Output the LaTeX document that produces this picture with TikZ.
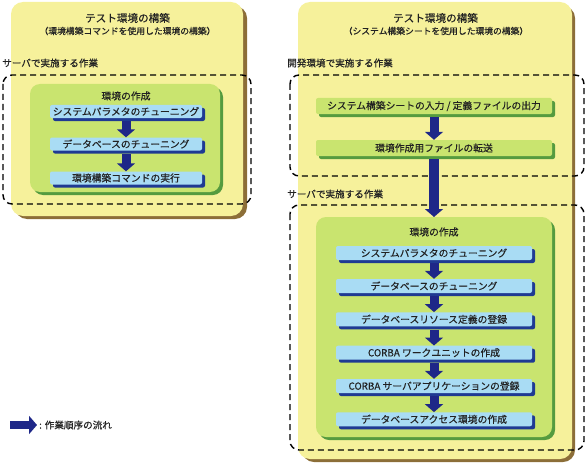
\documentclass[tikz,border=0pt]{standalone}
\usepackage{fontspec}
\setmainfont{Noto Sans CJK JP}[FakeBold=0.35]
\usetikzlibrary{arrows.meta,shadows}
\definecolor{panelY}{HTML}{F6F19B}
\definecolor{panelS}{HTML}{8C6E38}
\definecolor{greenF}{HTML}{C9E46F}
\definecolor{greenS}{HTML}{559B3F}
\definecolor{blueF}{HTML}{A9DCF4}
\definecolor{navyS}{HTML}{1F3A93}
\definecolor{flowC}{HTML}{1E2788}
\definecolor{txt}{HTML}{222222}
\begin{document}
\begin{tikzpicture}[x=1pt,y=-1pt,
  panel/.style={fill=panelY, rounded corners=12pt},
  panelshadow/.style={fill=panelS, rounded corners=12pt},
  dashbox/.style={draw=black, line width=1.4pt, dash pattern=on 6pt off 4pt, rounded corners=9pt},
  greenbox/.style={fill=greenF, rounded corners=10pt},
  greenshadow/.style={fill=greenS, rounded corners=10pt},
  titletext/.style={text=txt, inner sep=0pt, font=\fontsize{10.6}{11}\selectfont},
  subtext/.style={text=txt, inner sep=0pt, font=\fontsize{8.8}{9}\selectfont},
  labeltext/.style={text=txt, inner sep=0pt, anchor=west, font=\fontsize{9.6}{10}\selectfont},
  bluebox/.style={fill=blueF, rounded corners=2pt, inner sep=0pt, text=txt,
    font=\fontsize{9.8}{10}\selectfont,
    drop shadow={shadow xshift=3pt, shadow yshift=-3pt, fill=navyS, opacity=1}},
  greenbar/.style={fill=greenF, rounded corners=2pt, inner sep=0pt, text=txt,
    minimum width=236pt, minimum height=16pt, font=\fontsize{9.8}{10}\selectfont,
    drop shadow={shadow xshift=3pt, shadow yshift=-3pt, fill=greenS, opacity=1}},
  flow/.style={draw=flowC, line width=9pt, -{Triangle[width=18pt,length=8pt]}},
  bigflow/.style={draw=flowC, line width=10pt, -{Triangle[width=18pt,length=8pt]}}
]
\useasboundingbox (0,0) rectangle (588,468);

% ---------- left panel ----------
\fill[panelshadow] (15,6) rectangle (247,219);
\fill[panel] (11,2) rectangle (243,216);
\node[titletext] (lt) at (127.5,18) {テスト環境の構築};
\node[subtext] (ls) at (127.5,31) {（環境構築コマンドを使用した環境の構築）};
\node[labeltext] (lsv) at (2,63) {サーバで実施する作業};
\draw[dashbox] (3,75) rectangle (251,204);
\fill[greenshadow] (33,87) rectangle (223,195);
\fill[greenbox] (30,84) rectangle (220,192);
\node[titletext, font=\fontsize{9.8}{10}\selectfont] (lenv) at (126,96) {環境の作成};
\node[bluebox, minimum width=152pt, minimum height=13pt] (l1) at (126,111.5) {システムパラメタのチューニング};
\node[bluebox, minimum width=152pt, minimum height=13pt] (l2) at (126,144) {データベースのチューニング};
\node[bluebox, minimum width=152pt, minimum height=13pt] (l3) at (126,178) {環境構築コマンドの実行};
\draw[flow] ([yshift=-3pt]l1.south) -- (l2.north);
\draw[flow] ([yshift=-3pt]l2.south) -- (l3.north);

% ---------- right panel ----------
\fill[panelshadow] (302,6) rectangle (575,462);
\fill[panel] (298,2) rectangle (572,459);
\node[titletext] (rt) at (435.5,18) {テスト環境の構築};
\node[subtext] (rs) at (436,31) {（システム構築シートを使用した環境の構築）};
\node[labeltext] (rdev) at (287,63) {開発環境で実施する作業};
\draw[dashbox] (290,75) rectangle (584,176);
\node[greenbar] (g1) at (434,106) {システム構築シートの入力 / 定義ファイルの出力};
\node[greenbar] (g2) at (434,148) {環境作成用ファイルの転送};
\draw[flow] ([yshift=-3pt]g1.south) -- (g2.north);

\node[labeltext] (rsv) at (287,194) {サーバで実施する作業};
\draw[dashbox] (290,205) rectangle (584,450);
\fill[greenshadow] (319,220) rectangle (555,440);
\fill[greenbox] (316,217) rectangle (552,437);
\coordinate (envtop) at (434,217);
\node[titletext, font=\fontsize{9.8}{10}\selectfont] (renv) at (434,232) {環境の作成};
\node[bluebox, minimum width=196pt, minimum height=14pt] (r1) at (434,253) {システムパラメタのチューニング};
\node[bluebox, minimum width=196pt, minimum height=14pt] (r2) at (434,286) {データベースのチューニング};
\node[bluebox, minimum width=196pt, minimum height=14pt] (r3) at (434,319.3) {データベースリソース定義の登録};
\node[bluebox, minimum width=196pt, minimum height=14pt] (r4) at (434,352.7) {CORBA ワークユニットの作成};
\node[bluebox, minimum width=196pt, minimum height=14pt] (r5) at (434,386) {CORBA サーバアプリケーションの登録};
\node[bluebox, minimum width=196pt, minimum height=14pt] (r6) at (434,419.3) {データベースアクセス環境の作成};
\draw[flow] ([yshift=-3pt]r1.south) -- (r2.north);
\draw[flow] ([yshift=-3pt]r2.south) -- (r3.north);
\draw[flow] ([yshift=-3pt]r3.south) -- (r4.north);
\draw[flow] ([yshift=-3pt]r4.south) -- (r5.north);
\draw[flow] ([yshift=-3pt]r5.south) -- (r6.north);
\draw[bigflow] ([yshift=-3pt]g2.south) -- (envtop);

% ---------- legend ----------
\coordinate (la) at (10,425);
\coordinate (lb) at (37,425);
\draw[flow, line width=8pt] (la) -- (lb);
\node[labeltext] (lg) at (39,425) {: 作業順序の流れ};
\end{tikzpicture}
\end{document}
